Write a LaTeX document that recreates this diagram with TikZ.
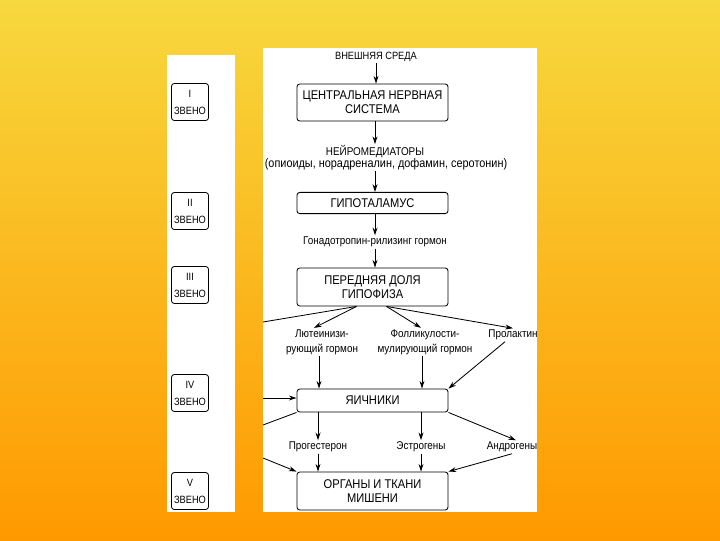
\documentclass[tikz,border=0pt]{standalone}
\usepackage{fontspec}
\setmainfont{Liberation Sans}[FakeStretch=0.88]
\usetikzlibrary{arrows.meta}
\definecolor{bgtop}{RGB}{247,216,62}
\definecolor{bgbottom}{RGB}{255,153,0}

\begin{document}
\begin{tikzpicture}[x=0.025cm, y=-0.025cm,
		block/.style={draw, semithick, rounded corners=2pt, inner sep=0pt, align=center,
			minimum width=3.775cm, font=\fontsize{9}{10}\selectfont},
		link/.style={draw, semithick, rounded corners=2pt, inner sep=0pt, align=center,
			minimum width=0.925cm, minimum height=0.925cm, font=\fontsize{7.5}{12}\selectfont},
		note/.style={inner sep=1pt, align=center, font=\fontsize{8}{10.5}\selectfont},
		arr/.style={semithick, -{Stealth[length=5.5pt, width=3.5pt]}},
		cut/.style={semithick}]
		\useasboundingbox (0,0) rectangle (720,540);
		
		% --- BACKGROUND & PANELS ---
		\shade[top color=bgtop, bottom color=bgbottom] (0,0) rectangle (720,540);
		\fill[white] (167,55) rectangle (235,512);
		\fill[white] (263,48) rectangle (537,512);
		
		% --- LEFT COLUMN: LINKS ---
		\node[link] (link1) at (190,102) {I\\ЗВЕНО};
		\node[link] (link2) at (190,211) {II\\ЗВЕНО};
		\node[link] (link3) at (190,285) {III\\ЗВЕНО};
		\node[link] (link4) at (190,393) {IV\\ЗВЕНО};
		\node[link] (link5) at (190,491) {V\\ЗВЕНО};
		
		% --- MAIN CHAIN ---
		\node[note, font=\fontsize{7.5}{9}\selectfont] (env) at (376,57) {ВНЕШНЯЯ СРЕДА};
		\node[block, minimum height=0.925cm] (cns) at (372.5,102.5) {ЦЕНТРАЛЬНАЯ НЕРВНАЯ\\СИСТЕМА};
		\node[note] (neuro) at (375,152) {НЕЙРОМЕДИАТОРЫ};
		\node[note, font=\fontsize{8.8}{10.5}\selectfont] (neurolist) at (386,164) {(опиоиды, норадреналин, дофамин, серотонин)};
		\node[block, minimum height=0.53cm] (hyp) at (372.5,203) {ГИПОТАЛАМУС};
		\node[note] (gnrh) at (375,242) {Гонадотропин-рилизинг гормон};
		\node[block, minimum height=0.95cm] (pit) at (372.5,287) {ПЕРЕДНЯЯ ДОЛЯ\\ГИПОФИЗА};
		
		% --- PITUITARY HORMONES ---
		\node[note] (lh) at (322,342) {Лютеинизи-\\рующий гормон};
		\node[note] (fsh) at (425,342) {Фолликулости-\\мулирующий гормон};
		\node[note] (prl) at (513,335) {Пролактин};
		\node[block, minimum height=0.575cm] (ovary) at (372.5,400.5) {ЯИЧНИКИ};
		
		% --- OVARIAN HORMONES ---
		\node[note] (prog) at (318,447) {Прогестерон};
		\node[note] (estr) at (421,447) {Эстрогены};
		\node[note] (andr) at (512,447) {Андрогены};
		\node[block, minimum height=0.95cm] (target) at (372.5,491) {ОРГАНЫ И ТКАНИ\\МИШЕНИ};
		
		% --- CUT ENDS AT PANEL EDGE ---
		\coordinate (cutA) at (263,322);
		\coordinate (cutB) at (263,398);
		\coordinate (cutC) at (263,425);
		\coordinate (cutD) at (263,458);
		\coordinate (pitL) at ([xshift=-0.4cm]pit.south);
		\coordinate (pitR) at ([xshift=0.35cm]pit.south);
		
		% --- CONNECTORS ---
		\draw[arr] (env.south) -- (env.south |- cns.north);
		\draw[arr] (cns.south -| neuro) -- (neuro.north);
		\draw[arr] (neurolist.south -| neuro) -- (hyp.north -| neuro);
		\draw[arr] (hyp.south -| gnrh) -- (gnrh.north);
		\draw[arr] (gnrh.south) -- (gnrh.south |- pit.north);
		\draw[cut] (pitL) -- (cutA);
		\draw[arr] (pitL) -- ([xshift=-0.2cm]lh.north);
		\draw[arr] (pitR) -- ([xshift=-0.1cm]fsh.north);
		\draw[arr] (pitR) -- (prl.north);
		\draw[arr] ([xshift=-0.075cm]lh.south) -- ([xshift=-0.075cm]lh.south |- ovary.north);
		\draw[arr] ([xshift=-0.075cm]fsh.south) -- ([xshift=-0.075cm]fsh.south |- ovary.north);
		\draw[arr] ([xshift=-0.2cm]prl.south) -- (ovary.north east);
		\draw[arr] (cutB) -- (cutB -| ovary.west);
		\draw[cut] (ovary.south west) -- (cutC);
		\draw[arr] (ovary.south -| prog) -- (prog.north);
		\draw[arr] (ovary.south -| estr) -- (estr.north);
		\draw[arr] (ovary.south east) -- ([xshift=0.1cm]andr.north);
		\draw[arr] (prog.south) -- (prog.south |- target.north);
		\draw[arr] (estr.south) -- (estr.south |- target.north);
		\draw[arr] (andr.south) -- (target.north east);
		\draw[arr] (cutD) -- (target.north west);
		
	\end{tikzpicture}
\end{document}
